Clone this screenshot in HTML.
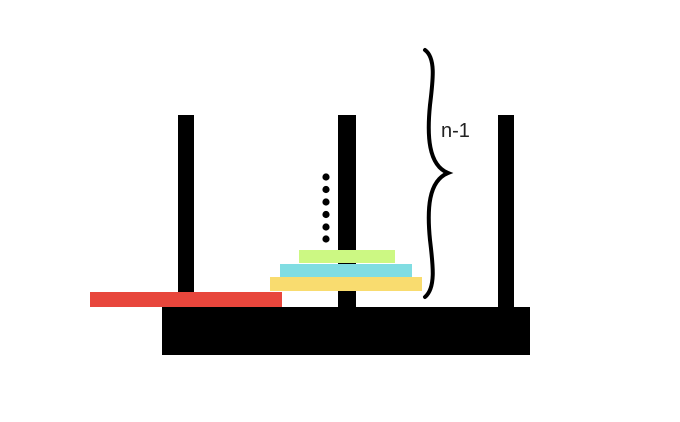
<!DOCTYPE html>
<html><head><meta charset="utf-8"><style>html,body{margin:0;padding:0;background:#fff}</style></head>
<body>
<svg width="680" height="417" viewBox="0 0 680 417" xmlns="http://www.w3.org/2000/svg">
<rect width="680" height="417" fill="#fff"/>
<rect x="178" y="115" width="16" height="192" fill="#000"/>
<rect x="338" y="115" width="18" height="192" fill="#000"/>
<rect x="498" y="115" width="16" height="192" fill="#000"/>
<rect x="162" y="307" width="368" height="48" fill="#000"/>
<rect x="90" y="292" width="192" height="15" fill="#e8463c"/>
<rect x="270" y="277" width="152" height="14" fill="#f9dc6f"/>
<rect x="280" y="264" width="132" height="13" fill="#80dde2"/>
<rect x="299" y="250" width="96" height="13" fill="#ccf883"/>
<g fill="#000">
<circle cx="326" cy="177" r="3.6"/><circle cx="326" cy="189.5" r="3.6"/><circle cx="326" cy="202" r="3.6"/>
<circle cx="326" cy="214.5" r="3.6"/><circle cx="326" cy="227" r="3.6"/><circle cx="326" cy="239" r="3.6"/>
</g>
<path d="M425 50 C436 58,433 80,430 105 C427 135,428 165,448 173 C428 181,427 210,430 240 C433 265,436 288,425 297" fill="none" stroke="#000" stroke-width="4" stroke-linecap="round"/>
<text x="441" y="137" font-family="Liberation Sans, sans-serif" font-size="20" fill="#222">n-1</text>
</svg>
</body></html>
